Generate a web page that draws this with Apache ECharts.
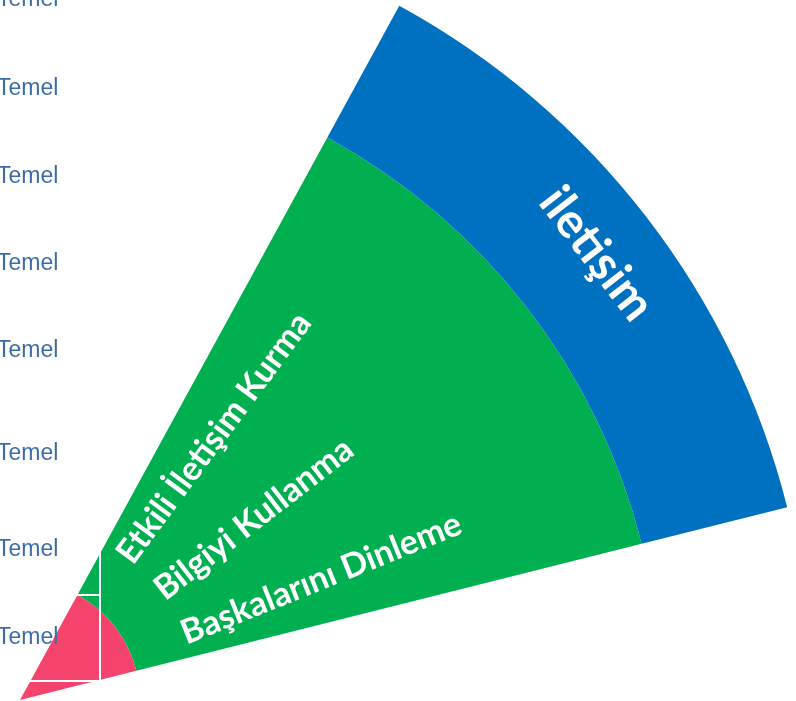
<!DOCTYPE html>
<html>
<head>
<meta charset="utf-8">
<script src="https://cdn.jsdelivr.net/npm/echarts@6/dist/echarts.min.js"></script>
<style>
  html, body { margin: 0; padding: 0; background: #ffffff; }
  #chart { width: 796px; height: 701px; }
</style>
</head>
<body>
<div id="chart"></div>
<script>
// rings of the fan, inner to outer
const coreNames = ['Temel'];
const coreValues = [1];
const skillNames = ['Etkili İletişim Kurma', 'Bilgiyi Kullanma', 'Başkalarını Dinleme'];
const skillValues = [1, 1, 1];
const areaNames = ['iletişim'];
const areaValues = [1];

// left axis labels and where they sit (axis units, 0 = bottom)
const temelLabels = ['Temel', 'Temel', 'Temel', 'Temel', 'Temel', 'Temel', 'Temel', 'Temel'];
const temelLevels = [0.497, 1.515, 2.625, 3.816, 4.822, 5.829, 6.846, 7.876];

const fanCenter = [20, 700];
const fanStart = 61.35;
const fanEnd = 14.1;

function fanItems(names, values, color) {
  return names.map((n, i) => ({ name: n, value: values[i], itemStyle: { color: color } }));
}

function fanSeries(radius, data, label, extra) {
  return Object.assign({
    type: 'pie',
    center: fanCenter,
    radius: radius,
    startAngle: fanStart,
    endAngle: fanEnd,
    clockwise: true,
    avoidLabelOverlap: false,
    silent: true,
    z: 2,
    itemStyle: { borderWidth: 0 },
    labelLine: { show: false },
    label: label || { show: false },
    emphasis: { disabled: true },
    data: data
  }, extra || {});
}

const skillTotal = skillValues.reduce((a, b) => a + b, 0);

const chart = echarts.init(document.getElementById('chart'));
const options = {
  animation: false,
  grid: { left: 100, right: 0, top: 0, bottom: 20, outerBoundsMode: 'none' },
  xAxis: { type: 'value', show: false },
  yAxis: {
    type: 'value',
    min: 0,
    max: 7.876,
    interval: 1,
    z: 10,
    axisLine: { show: true, lineStyle: { color: '#ffffff', width: 2 } },
    axisTick: { show: true, length: 100, lineStyle: { color: '#ffffff', width: 2 } },
    splitLine: { show: false },
    axisLabel: {
      show: true,
      customValues: temelLevels,
      formatter: function (v) {
        const k = temelLevels.findIndex(t => Math.abs(t - v) < 1e-6);
        return temelLabels[k >= 0 ? k : 0];
      },
      align: 'left',
      margin: 103,
      color: '#3c6ca8',
      fontSize: 23,
      fontFamily: 'Liberation Sans'
    }
  },
  series: [
    fanSeries([0, 120], fanItems(coreNames, coreValues, '#f4436c')),
    fanSeries([120, 641], [{ name: 'beceriler', value: skillTotal, itemStyle: { color: '#00b050' } }]),
    // label carrier for the green ring
    fanSeries([0, 344], fanItems(skillNames, skillValues, 'rgba(0,0,0,0)'), {
      show: true,
      position: 'inside',
      rotate: 'radial',
      color: '#ffffff',
      fontSize: 34,
      fontFamily: 'Lato',
      fontWeight: 'bold'
    }, { z: 3, labelLayout: { align: 'left' } }),
    fanSeries([641, 791], fanItems(areaNames, areaValues, '#0070c0'), {
      show: true,
      position: 'inside',
      rotate: 'tangential',
      color: '#ffffff',
      fontSize: 48,
      fontFamily: 'Lato',
      fontWeight: 'bold'
    }, { labelLayout: { dy: -10 } })
  ]
};
chart.setOption(options);
window.onresize = () => {
  chart.resize();
};
</script>
</body>
</html>
